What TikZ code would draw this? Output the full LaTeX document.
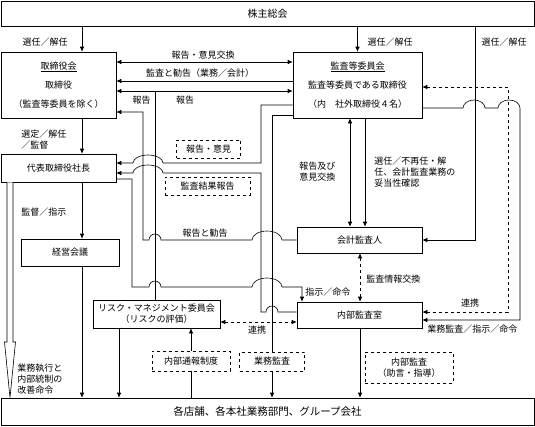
\documentclass[tikz,border=0pt]{standalone}
\usepackage{fontspec}
\setmainfont{Noto Sans CJK JP}
\usetikzlibrary{arrows.meta}
\usetikzlibrary{positioning}
\tikzset{box/.style = {draw, fill=white, inner sep=0, align=center}}
\tikzset{dbox/.style = {draw, dashed, fill=white, inner sep=0, align=center}}
\tikzset{lbl/.style = {inner sep=0, align=left}}

\begin{document}
\begin{tikzpicture}[x=1pt, y=-1pt, line width=0.6pt, >={Latex[length=5pt,width=4.5pt]},
    font=\fontsize{9}{11}\selectfont]
      \useasboundingbox (0,0) rectangle (535,426);

      % boxes
      \node [box, minimum width=533pt, minimum height=25pt, font=\fontsize{10}{11}\selectfont] (kabu) at (267.5,13.5) {株主総会};
      \node [box, minimum width=115pt, minimum height=66pt] (tk) at (58.5,85) {\underline{取締役会}\\[8pt]取締役\\[8pt]（監査等委員を除く）};
      \node [box, minimum width=129pt, minimum height=66pt] (kiin) at (357.5,85) {\underline{監査等委員会}\\[8pt]監査等委員である取締役\\[8pt]（内　社外取締役４名）};
      \node [box, minimum width=115pt, minimum height=28pt] (shacho) at (58.5,168) {代表取締役社長};
      \node [box, minimum width=98pt, minimum height=27pt] (keiei) at (70,252.5) {経営会議};
      \node [box, minimum width=125pt, minimum height=26pt] (kaikei) at (359.5,240) {会計監査人};
      \node [box, minimum width=127pt, minimum height=28pt] (risk) at (156.5,314) {リスク・マネジメント委員会\\（リスクの評価）};
      \node [box, minimum width=125pt, minimum height=26pt] (naibu) at (359.5,315) {内部監査室};
      \node [box, minimum width=533pt, minimum height=27pt, font=\fontsize{10.5}{11}\selectfont] (tenpo) at (267.5,411.5) {各店舗、各本社業務部門、グループ会社};

      % 株主総会から
      \draw [->] (kabu.south -| 82,0) -- (tk.north -| 82,0);
      \draw [->] (kabu.south -| kiin.north) -- (kiin.north);
      \draw [->] (kabu.south -| 475,0) |- (kaikei.east);
      \node [lbl] (sn1) at (45,42) {選任／解任};
      \node [lbl] (sn2) at (390,42) {選任／解任};
      \node [lbl] (sn3) at (504,42) {選任／解任};

      % 取締役会と監査等委員会
      \draw [<->] (tk.east |- 0,62) -- (kiin.west |- 0,62);
      \draw [<-] (tk.east |- 0,81) -- (kiin.west |- 0,81);
      \draw [<->] (tk.east |- 0,91) -- (kiin.west |- 0,91);
      \draw (risk.north -| 155,0) -- (155,91);
      \node [lbl] (hk1) at (203,55) {報告・意見交換};
      \node [lbl] (kk1) at (200,73) {監査と勧告（業務／会計）};
      \node [lbl] (hk2) at (141.5,100) {報告};
      \node [lbl] (hk3) at (185,100) {報告};

      % 会計監査人から取締役会へ
      \draw [->] (kaikei.west) -- (282,240)
        arc [start angle=360, end angle=180, x radius=15, y radius=9] -- (161,240)
        arc [start angle=360, end angle=180, x radius=6, y radius=6] -- (143,240)
        |- (tk.east |- 0,112);
      \node [lbl] (hk4) at (205,233) {報告と勧告};

      % 代表取締役社長へ
      \draw [->] (kiin.west |- 0,105) -- (261,105) -- (261,163) -- (163,163)
        arc [start angle=360, end angle=180, x radius=15, y radius=8] -- (shacho.east |- 0,163);
      \draw [->] (naibu.west |- 0,312) -- (278,312)
        arc [start angle=360, end angle=180, x radius=6, y radius=6] -- (261,312) -- (261,173) -- (163,173)
        arc [start angle=360, end angle=180, x radius=15, y radius=8] -- (shacho.east |- 0,173);
      \node [dbox, minimum width=64pt, minimum height=18pt] (iken) at (208.5,149) {報告・意見};
      \node [dbox, minimum width=85pt, minimum height=18pt] (kekka) at (207.5,186) {監査結果報告};

      % 代表取締役社長から内部監査室へ
      \draw [->] (shacho.east |- 0,179) -- (132,179) -- (132,287) -- (149,287)
        arc [start angle=180, end angle=360, x radius=6, y radius=6] -- (252,287)
        arc [start angle=180, end angle=360, x radius=15, y radius=9] -- (302,287)
        -- (naibu.north -| 302,0);
      \node [lbl, anchor=west] (ss1) at (305,292) {指示／命令};

      % 監査等委員会から
      \draw [->] (kiin.west |- 0,115) -- (272,115) -- (tenpo.north -| 272,0);
      \node [dbox, minimum width=65pt, minimum height=19pt] (gyomu) at (272,361.5) {業務監査};
      \draw [<->] (kiin.south -| 350,0) -- (kaikei.north -| 350,0);
      \draw [->] (kiin.south -| 365,0) -- (kaikei.north -| 365,0);
      \node [lbl, anchor=west] (hk5) at (299,172) {報告及び\\意見交換};
      \node [lbl, anchor=west] (sn4) at (374,172) {選任／不再任・解\\任、会計監査業務の\\妥当性確認};
      \draw [<->, dashed] (kiin.east |- 0,87) -| (508,312) -- (naibu.east |- 0,312);
      \node [lbl] (rk1) at (470,303) {連携};
      \draw [->] (kiin.east |- 0,108) -- (463,108)
        arc [start angle=180, end angle=360, x radius=11, y radius=8] -- (498,108)
        arc [start angle=180, end angle=360, x radius=11, y radius=8] -- (520,320)
        -- (naibu.east |- 0,320);
      \node [lbl, anchor=west] (gs1) at (427,329) {業務監査／指示／命令};

      % 会計監査人と内部監査室
      \draw [<->, dashed] (kaikei.south -| 360,0) -- (naibu.north -| 360,0);
      \node [lbl, anchor=west] (jk1) at (366,279) {監査情報交換};
      \draw [->] (naibu.south -| 360,0) -- (tenpo.north -| 360,0);
      \node [dbox, minimum width=88pt, minimum height=31pt] (shido) at (409,367.5) {内部監査\\（助言・指導）};

      % リスク・マネジメント委員会
      \draw [<->, dashed] (risk.east |- 0,322) -- (naibu.west |- 0,322);
      \node [lbl] (rk2) at (257,330) {連携};
      \draw [->] (risk.south -| 119,0) -- (tenpo.north -| 119,0);
      \draw [->] (tenpo.north -| 191,0) -- (risk.south -| 191,0);
      \node [dbox, minimum width=78pt, minimum height=20pt] (tsuho) at (191,361) {内部通報制度};

      % 左列
      \draw [->] (tk.south -| 82,0) -- (shacho.north -| 82,0);
      \node [lbl, anchor=west] (sn5) at (21,140) {選定／解任\\／監督};
      \draw [->] (shacho.south -| 82,0) -- (keiei.north -| 82,0);
      \node [lbl, anchor=west] (ks1) at (21,212) {監督／指示};
      \draw [->] (keiei.south -| 82,0) -- (tenpo.north -| 82,0);
      \draw [fill=white] (shacho.south -| 7,0) -- (7,342) -- (4.5,342) -- (tenpo.north -| 10,0)
        -- (15.5,342) -- (13,342) -- (shacho.south -| 13,0);
      \node [lbl, anchor=west] (gk1) at (17,379) {業務執行と\\内部統制の\\改善命令};
    \end{tikzpicture}
\end{document}
